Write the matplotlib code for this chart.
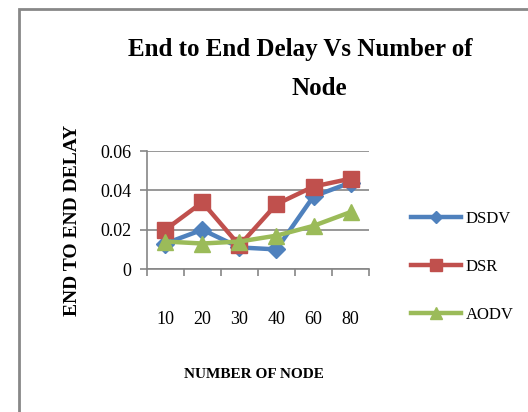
import matplotlib
matplotlib.use("Agg")
import matplotlib.pyplot as plt
from matplotlib.patches import Rectangle

plt.rcParams['font.family'] = ['Liberation Serif', 'DejaVu Serif']

nodes = ["10", "20", "30", "40", "60", "80"]
dsdv = [0.013, 0.020, 0.011, 0.010, 0.037, 0.044]
dsr = [0.020, 0.034, 0.012, 0.033, 0.042, 0.046]
aodv = [0.014, 0.013, 0.014, 0.017, 0.022, 0.029]
yticks = [0, 0.02, 0.04, 0.06]
ytick_labels = ["0", "0.02", "0.04", "0.06"]

fig = plt.figure(figsize=(5.28, 4.12), dpi=100)
ax = fig.add_axes([0.278, 0.347, 0.421, 0.286])

x = list(range(len(nodes)))
ax.plot(x, dsdv, color="#4F81BD", lw=3.2, marker="D", ms=9, label="DSDV")
ax.plot(x, dsr, color="#C0504D", lw=3.2, marker="s", ms=12, label="DSR")
ax.plot(x, aodv, color="#9BBB59", lw=3.2, marker="^", ms=12, label="AODV")

ax.set_xlim(-0.5, len(nodes) - 0.5)
ax.set_ylim(0, 0.06)
ax.set_yticks(yticks)
ax.set_yticklabels(ytick_labels, fontsize=13)
ax.set_xticks(x)
ax.set_xticklabels(nodes, fontsize=13)
ax.set_xticks([i - 0.5 for i in range(len(nodes) + 1)], minor=True)
ax.tick_params(axis="x", which="major", length=0, pad=30)
ax.tick_params(axis="x", which="minor", length=5, color="#868686", width=1.2)
ax.tick_params(axis="y", length=5, color="#868686", width=1.2, pad=6)
ax.grid(axis="y", color="#868686", lw=1.2)
ax.set_axisbelow(True)
for s in ["top", "right"]:
    ax.spines[s].set_visible(False)
for s in ["left", "bottom"]:
    ax.spines[s].set_color("#868686")
    ax.spines[s].set_linewidth(1.2)

fig.text(0.568, 0.88, "End to End Delay Vs Number of", ha="center", va="center",
         fontsize=18, fontweight="bold")
fig.text(0.604, 0.785, "Node", ha="center", va="center",
         fontsize=18, fontweight="bold")
fig.text(0.48, 0.09, "NUMBER OF NODE", ha="center", va="center",
         fontsize=11, fontweight="bold")
fig.text(0.138, 0.466, "END TO END DELAY", ha="center", va="center",
         fontsize=14, fontweight="bold", rotation=90)

fig.legend(loc="center left", bbox_to_anchor=(0.75, 0.352), frameon=False,
           fontsize=12, handlelength=3.0, labelspacing=1.9, handletextpad=0.3,
           markerscale=0.7)

# outer chart border (gray, left + top)
fig.patches.append(Rectangle((19 / 528, -0.1), 1.2, 1.1 - 9 / 412,
                             transform=fig.transFigure, fill=False,
                             edgecolor="#888888", lw=2))

fig.savefig("out.png", dpi=100)
